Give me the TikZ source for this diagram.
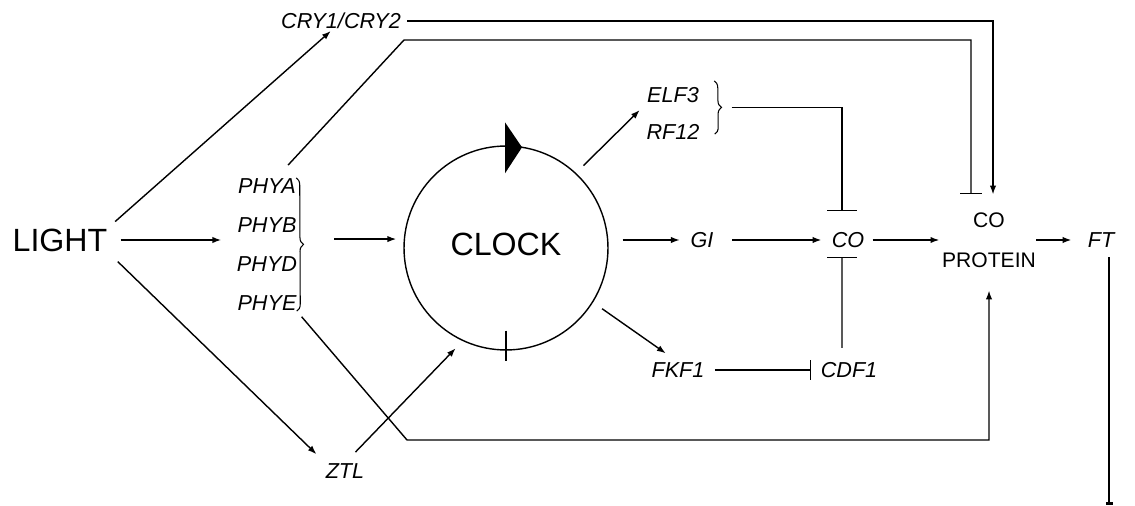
\documentclass[tikz,border=0pt]{standalone}
\usepackage{fontspec}
\setmainfont{Liberation Sans}
\usetikzlibrary{arrows.meta,decorations.pathreplacing}

\tikzset{
  arr/.style={-{Latex[length=5pt,width=3.6pt]}, line width=0.8pt},
  inh/.style={-{Bar[width=#1]}, line width=0.8pt},
  link/.style={line width=0.8pt},
  brc/.style={decorate, decoration={brace, amplitude=4pt}, line width=0.6pt},
  gene/.style={font=\fontsize{12.3}{14}\selectfont\itshape, inner sep=0pt, text height=8.8pt, text depth=0pt},
  big/.style={font=\fontsize{18.3}{20}\selectfont, inner sep=0pt, text height=13.1pt, text depth=0pt},
}

\begin{document}
\begin{tikzpicture}[x=0.02cm, y=-0.02cm]
\useasboundingbox (0,0) rectangle (1135,506);

% NODES
\node[big] (light) at (60,240) {LIGHT};
\node[gene] (cry) at (341,21) {CRY1/CRY2};
\node[gene] (phya) at (267,186) {PHYA};
\node[gene] (phyb) at (267,225) {PHYB};
\node[gene] (phyd) at (267,264) {PHYD};
\node[gene] (phye) at (267,303) {PHYE};
\node[gene] (ztl) at (345,471) {ZTL};
\node[big, draw, circle, minimum size=4.08cm, line width=0.8pt, text depth=4.5pt] (clock) at (506,248) {CLOCK};
\node[gene] (elf) at (673,95) {ELF3};
\node[gene] (rf) at (673,132) {RF12};
\node[gene] (gi) at (702,240) {GI};
\node[gene] (co) at (848,240) {CO};
\node[gene] (fkf) at (678,370) {FKF1};
\node[gene] (cdf) at (849,370) {CDF1};
\node[font=\fontsize{12}{23}\selectfont, align=center, inner sep=0pt] (copro) at (989,240) {CO\\PROTEIN};
\node[gene] (ft) at (1101,240) {FT};

% CLOCK MARKS
\fill (clock.north) ++(-1,-23) -- ++(0,51) -- ++(17,-26) -- cycle;
\draw[link] (clock.south) ++(0,-20) -- ++(0,30);

% BRACES
\draw[brc] (phya.north east) -- (phye.south east);
\path (phya.north east) -- coordinate[midway, xshift=4.3pt] (phys) (phye.south east);
\draw[brc] ([shift={(0.3cm,0.12cm)}]elf.north east) -- ([shift={(0.3cm,0.12cm)}]rf.south east);
\path ([shift={(0.3cm,0.12cm)}]elf.north east) -- coordinate[midway, xshift=4pt] (elfrf) ([shift={(0.3cm,0.12cm)}]rf.south east);

% LIGHT INPUTS
\draw[arr, shorten <=0.2cm, shorten >=0.06cm] (light.north east) -- ([xshift=-0.16cm]cry.south);
\draw[arr, shorten <=0.26cm, shorten >=0.32cm] (light.east) -- (light.east -| phyb.west);
\draw[arr, shorten <=0.28cm, shorten >=0.25cm] (light.south east) -- (ztl.north west);
\draw[arr, shorten <=0.3cm, shorten >=0.2cm] (ztl.north) -- (clock.245);
\draw[arr, shorten <=0.6cm, shorten >=0.15cm] (clock.175 -| phys) -- (clock.175);

% LONG LINES TO CO PROTEIN
\coordinate (phyaTurn) at (404,40);
\coordinate (phyeTurn) at (407,440);
\draw[arr, shorten <=0.12cm, shorten >=0.35cm] (cry.east) -| ([xshift=0.08cm]copro.north);
\draw[inh=12pt, shorten <=0.35cm, shorten >=0.35cm] ([xshift=-0.4cm]phya.north east) -- (phyaTurn) -| ([xshift=-0.36cm]copro.north);
\draw[arr, shorten <=0.15cm, shorten >=0.45cm] (phye.south east) -- (phyeTurn) -| (copro.south);

% CLOCK OUTPUTS
\draw[arr, shorten <=0.21cm, shorten >=0.2cm] (clock.47) -- (elf.south west);
\draw[arr, shorten <=0.28cm, shorten >=0.21cm] (gi.west -| clock.east) -- (gi.west);
\draw[arr, shorten <=0.22cm, shorten >=0.3cm] (clock.-32) -- (fkf.north);

% CO REGULATION
\draw[inh=17pt, shorten <=0.2cm, shorten >=0.42cm] (elfrf) -| ([xshift=-0.12cm]co.north);
\draw[arr, shorten <=0.37cm, shorten >=0.2cm] (gi.east) -- (co.west);
\draw[inh=17pt, shorten <=0.28cm, shorten >=0.18cm] ([xshift=-0.14cm]cdf.north) -- ([xshift=-0.12cm]co.south);
\draw[inh=11pt, shorten <=0.2cm, shorten >=0.19cm] (fkf.east) -- (cdf.west);
\draw[arr, shorten <=0.16cm, shorten >=0.05cm] (co.east) -- (co.east -| copro.west);
\draw[arr, shorten >=0.32cm] (ft.west -| copro.east) -- (ft.west);

% FT
\draw[inh=4pt, line width=1.5pt, shorten <=0.18cm] ([xshift=0.16cm]ft.south) -- ++(0,257);

\end{tikzpicture}
\end{document}
